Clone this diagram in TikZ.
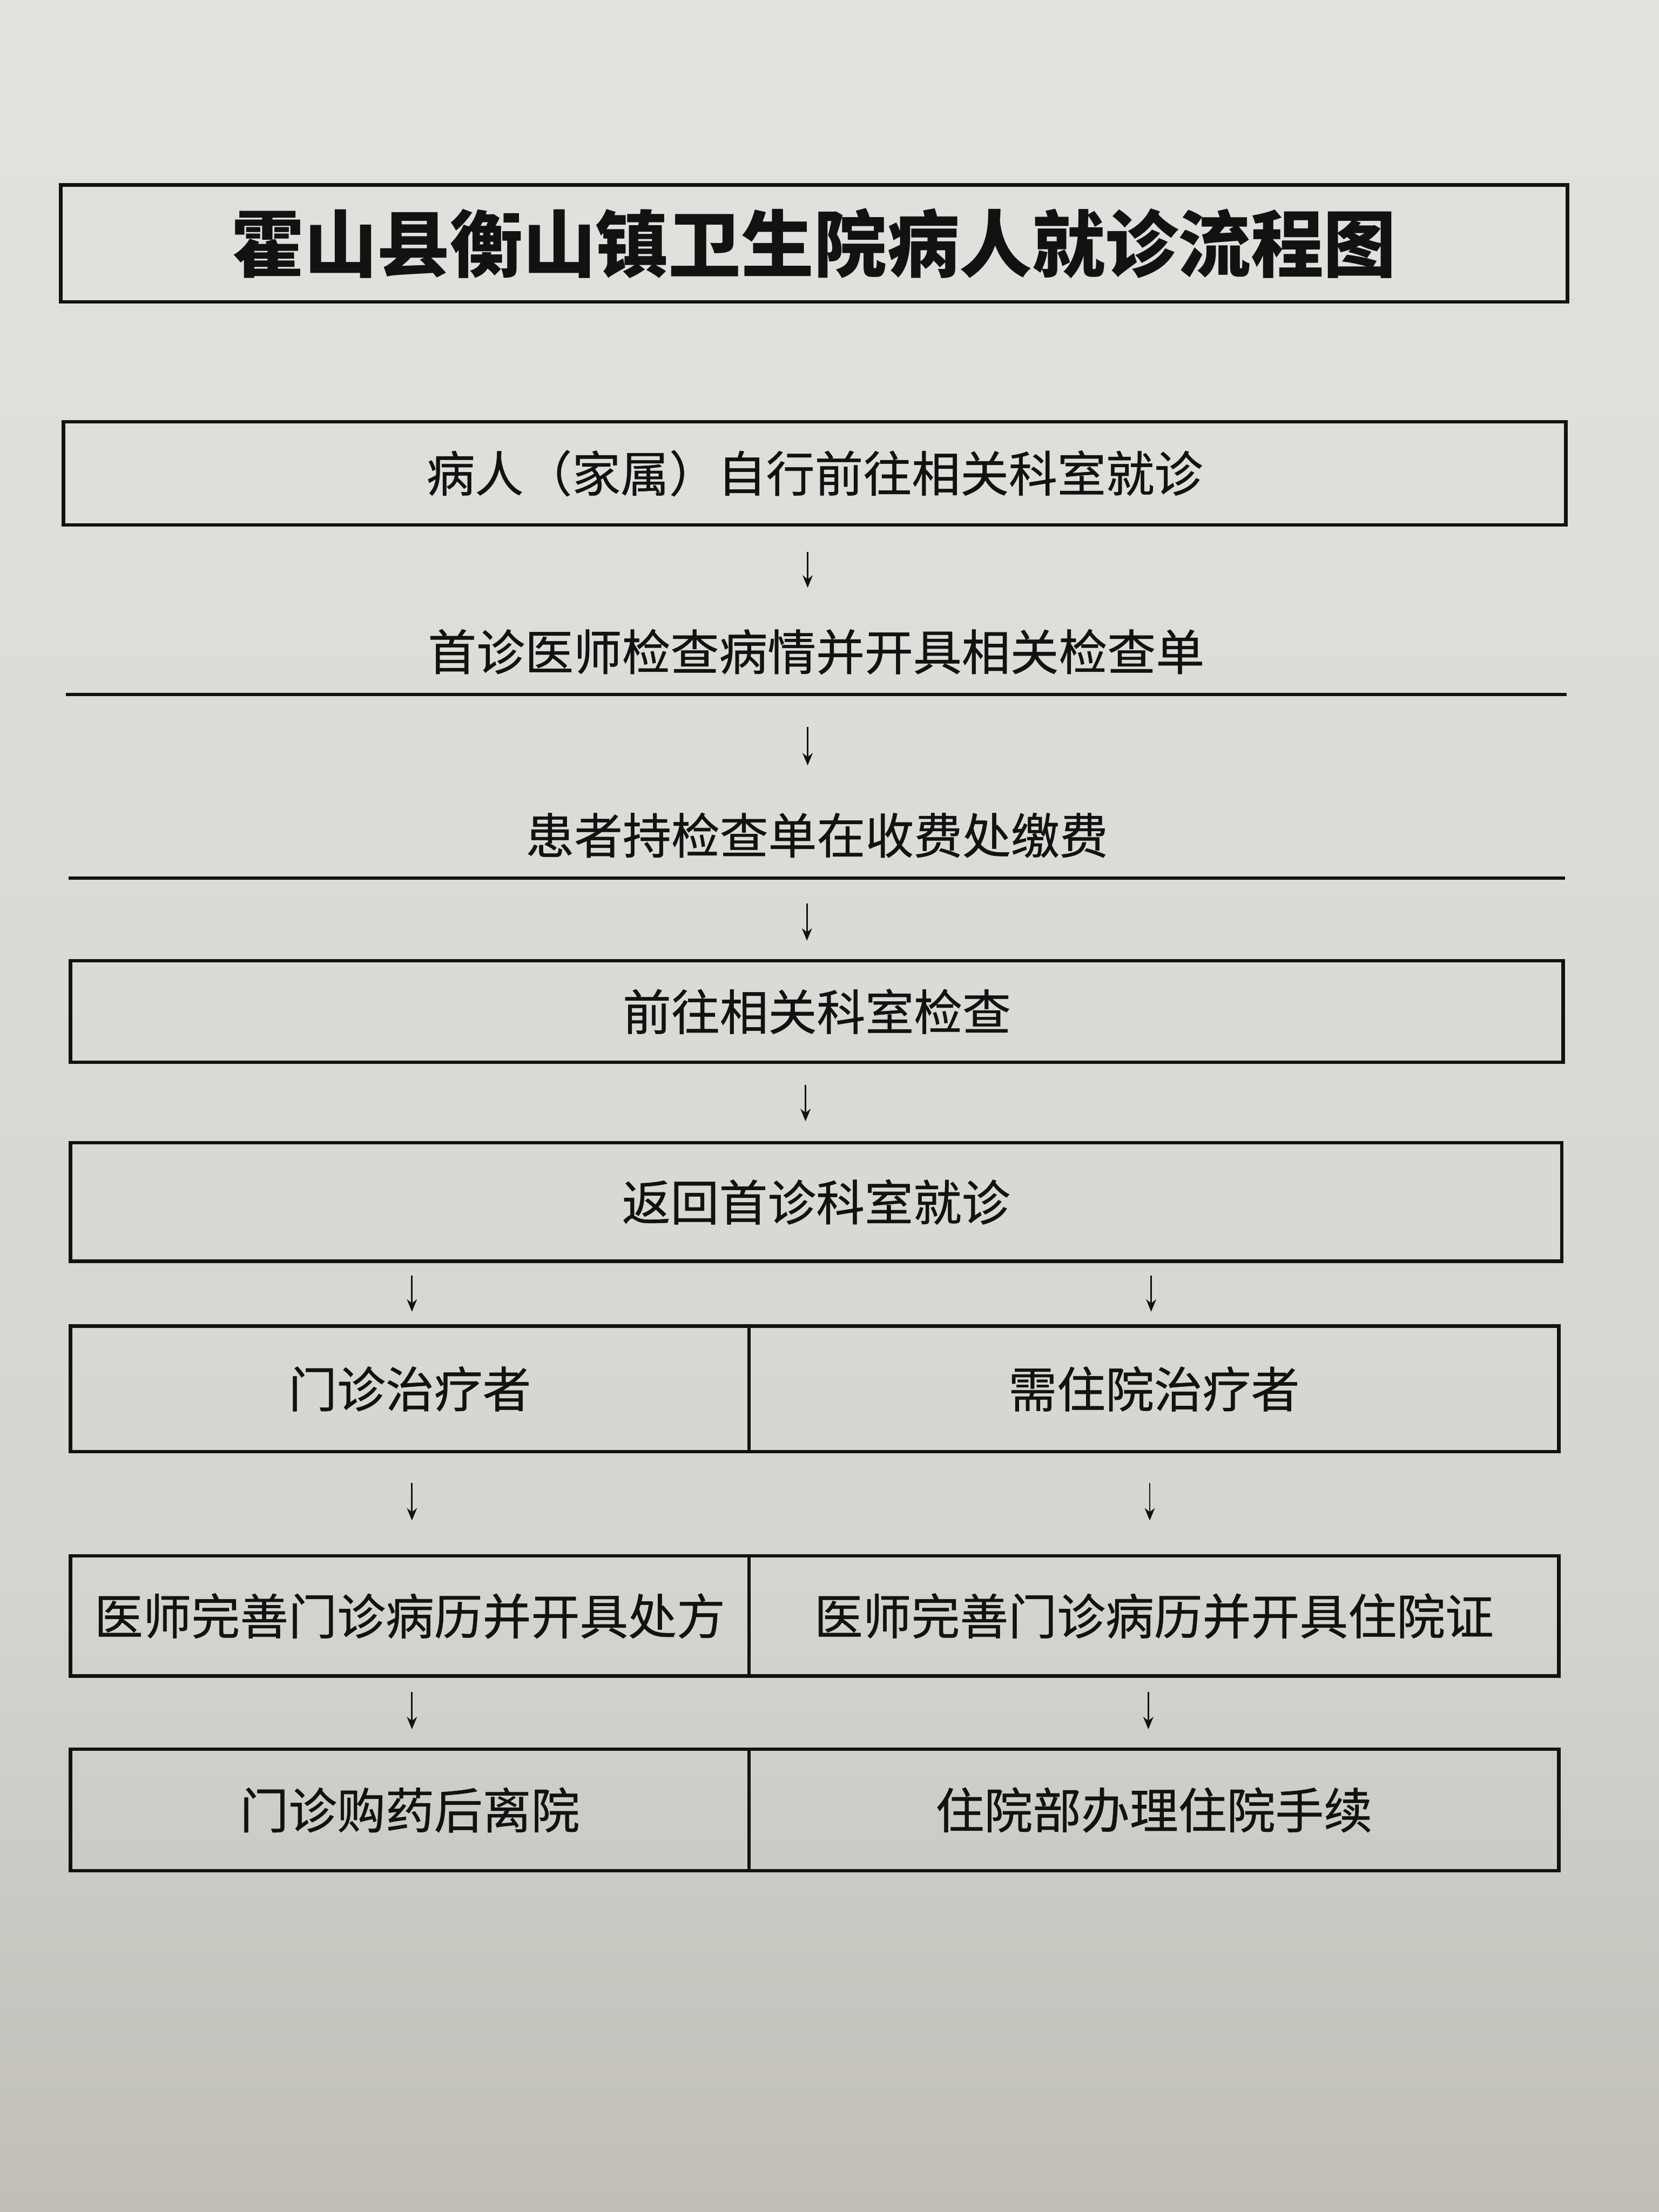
\documentclass[tikz,border=0pt]{standalone}
\usepackage{fontspec}
\setmainfont{Noto Sans CJK SC}
\newfontfamily\bodyfont{Noto Sans CJK SC}[FakeBold=0.6]
\usetikzlibrary{arrows.meta}
\definecolor{papertop}{RGB}{226,226,222}
\definecolor{papermid}{RGB}{214,214,209}
\definecolor{paperbot}{RGB}{192,190,183}
\definecolor{ink}{RGB}{18,18,18}
\tikzset{
  boxnode/.style={draw=ink, line width=1.2pt, inner sep=0pt, font=\bodyfont\fontsize{17.2pt}{19pt}\selectfont, text=ink},
  plainrow/.style={inner sep=0pt, font=\bodyfont\fontsize{17.2pt}{19pt}\selectfont, text=ink},
  titlenode/.style={draw=ink, line width=1.3pt, inner sep=0pt, font=\fontsize{25.8pt}{28pt}\selectfont\bfseries, text=ink},
  flowarrow/.style={draw=ink, line width=0.55pt, -{Stealth[length=4.4pt,width=3.6pt,inset=1.4pt]}},
  rule/.style={draw=ink, line width=1.2pt}
}
\begin{document}
\begin{tikzpicture}[x=0.5pt,y=-0.5pt]
\useasboundingbox (0,0) rectangle (1176,1568);
\shade[top color=papertop, bottom color=papermid] (0,0) rectangle (1176,1100);
\shade[top color=papermid, bottom color=paperbot] (0,1099) rectangle (1176,1568);

% title
\node[titlenode, minimum width=534pt, minimum height=41.5pt] (title) at (577,172.5) {霍山县衡山镇卫生院病人就诊流程图};

% main column
\node[boxnode, minimum width=532.5pt, minimum height=36.5pt] (b1) at (577.5,335.5) {病人（家属）自行前往相关科室就诊};
\node[plainrow, minimum width=531.5pt, minimum height=30pt] (r2) at (578.5,462) {首诊医师检查病情并开具相关检查单};
\draw[rule] (r2.south west) -- (r2.south east);
\node[plainrow, minimum width=530pt, minimum height=30pt] (r3) at (579,592) {患者持检查单在收费处缴费};
\draw[rule] (r3.south west) -- (r3.south east);
\node[boxnode, minimum width=529pt, minimum height=36pt] (b4) at (579,717) {前往相关科室检查};
\node[boxnode, minimum width=528.5pt, minimum height=42pt] (b5) at (578.5,852) {返回首诊科室就诊};

% two branches
\node[boxnode, minimum width=240.5pt, minimum height=44.5pt] (l6) at (290.5,984.5) {门诊治疗者};
\node[boxnode, minimum width=287pt, minimum height=44.5pt] (r6) at (818,984.5) {需住院治疗者};
\node[boxnode, minimum width=240.5pt, minimum height=42.5pt] (l7) at (290.5,1145.5) {医师完善门诊病历并开具处方};
\node[boxnode, minimum width=287pt, minimum height=42.5pt] (r7) at (818,1145.5) {医师完善门诊病历并开具住院证};
\node[boxnode, minimum width=240.5pt, minimum height=43pt] (l8) at (290.5,1283) {门诊购药后离院};
\node[boxnode, minimum width=287pt, minimum height=43pt] (r8) at (818,1283) {住院部办理住院手续};

% arrows
\draw[flowarrow, shorten <=9pt, shorten >=7.5pt] ([xshift=-2.5pt]b1.south) -- ([xshift=-2.5pt]b1.south |- r2.north);
\draw[flowarrow, shorten <=11.5pt, shorten >=9.5pt] ([xshift=-3pt]r2.south) -- ([xshift=-3pt]r2.south |- r3.north);
\draw[flowarrow, shorten <=9pt, shorten >=6.5pt] ([xshift=-3.5pt]r3.south) -- ([xshift=-3.5pt]r3.south |- b4.north);
\draw[flowarrow, shorten <=7.5pt, shorten >=7pt] ([xshift=-4pt]b4.south) -- ([xshift=-4pt]b4.south |- b5.north);

\draw[flowarrow, shorten <=4.5pt, shorten >=4.5pt] ([xshift=0.75pt]l6.north |- b5.south) -- ([xshift=0.75pt]l6.north);
\draw[flowarrow, shorten <=4.5pt, shorten >=4.5pt] ([xshift=-1pt]r6.north |- b5.south) -- ([xshift=-1pt]r6.north);
\draw[flowarrow, shorten <=10.5pt, shorten >=12pt] ([xshift=0.75pt]l6.south) -- ([xshift=0.75pt]l7.north);
\draw[flowarrow, shorten <=10.5pt, shorten >=12pt] ([xshift=-1.5pt]r6.south) -- ([xshift=-1.5pt]r7.north);
\draw[flowarrow, shorten <=5pt, shorten >=6.5pt] ([xshift=0.75pt]l7.south) -- ([xshift=0.75pt]l8.north);
\draw[flowarrow, shorten <=5pt, shorten >=6.5pt] ([xshift=-2pt]r7.south) -- ([xshift=-2pt]r8.north);
\end{tikzpicture}
\end{document}
